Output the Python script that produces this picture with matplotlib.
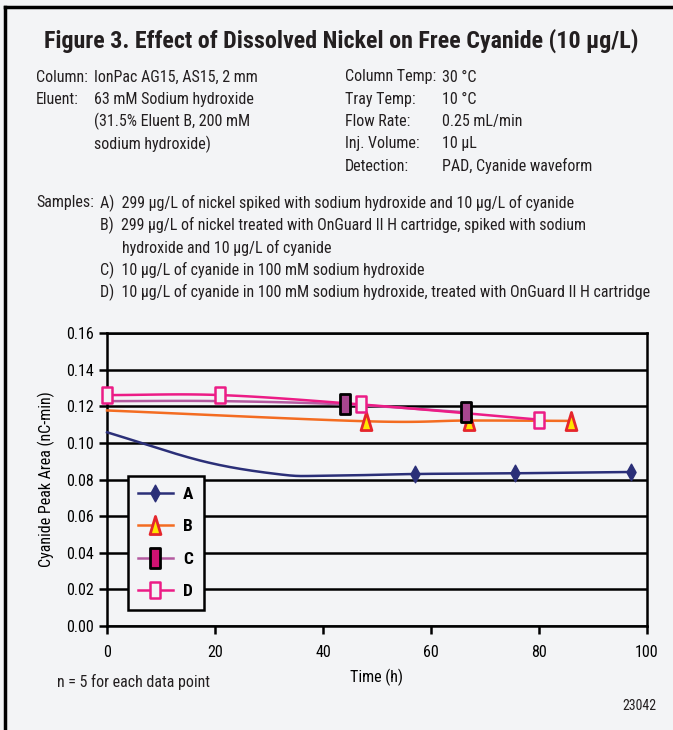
import numpy as np
import matplotlib
matplotlib.use('Agg')
import matplotlib.pyplot as plt
from matplotlib.lines import Line2D
from matplotlib.path import Path

# ---------------- data ----------------
t_A = [0, 18, 32, 40, 57, 75.5, 97]
y_A = [0.1058, 0.0898, 0.0828, 0.0820, 0.0830, 0.0834, 0.0841]
mk_A = [4, 5, 6]

t_B = [0, 48, 67, 86]
y_B = [0.1177, 0.1118, 0.1122, 0.1120]
mk_B = [1, 2, 3]

t_C = [0, 21, 44, 66.5]
y_C = [0.1228, 0.1228, 0.1210, 0.1167]
mk_C = [2, 3]

t_D = [0, 21, 47, 80]
y_D = [0.1261, 0.1261, 0.1210, 0.1127]
mk_D = [0, 1, 2, 3]

labels = ['A', 'B', 'C', 'D']
yticks = [0.00, 0.02, 0.04, 0.06, 0.08, 0.10, 0.12, 0.14, 0.16]
xticks = [0, 20, 40, 60, 80, 100]

BG = '#f3f4f6'
NAVY = '#2b2f78'
ORANGE = '#f36c21'
RED = '#e5262c'
YELLOW = '#ffe500'
PURPLE = '#b45aa0'
CFACE = '#a8468f'
PINK = '#ec1c86'

plt.rcParams['font.family'] = ['Roboto Condensed', 'DejaVu Sans']


def smooth(x, y, n=40):
    # catmull-rom through the points, like the excel smoothed line
    x = np.asarray(x, float)
    y = np.asarray(y, float)
    px = np.concatenate([[2 * x[0] - x[1]], x, [2 * x[-1] - x[-2]]])
    py = np.concatenate([[2 * y[0] - y[1]], y, [2 * y[-1] - y[-2]]])
    xs, ys = [], []
    s = np.linspace(0, 1, n)
    for i in range(1, len(px) - 2):
        for p, out in ((px, xs), (py, ys)):
            p0, p1, p2, p3 = p[i - 1], p[i], p[i + 1], p[i + 2]
            out.extend(0.5 * ((2 * p1) + (-p0 + p2) * s +
                              (2 * p0 - 5 * p1 + 4 * p2 - p3) * s ** 2 +
                              (-p0 + 3 * p1 - 3 * p2 + p3) * s ** 3))
    return np.array(xs), np.array(ys)


def tall(verts):
    return Path(verts + [verts[0]], closed=True)

m_diam = tall([(0, 1), (0.55, 0), (0, -1), (-0.55, 0)])
m_tri = tall([(0, 1), (0.6, -1), (-0.6, -1)])
m_rect = tall([(-0.55, 1), (0.55, 1), (0.55, -1), (-0.55, -1)])

fig = plt.figure(figsize=(6.73, 7.30), dpi=100)
fig.patch.set_facecolor(BG)
# frame: only the left and top edges show
fig.add_artist(Line2D([5 / 673, 5 / 673], [0, 1 - 7 / 730], transform=fig.transFigure,
                      color='black', lw=2.5, solid_capstyle='projecting'))
fig.add_artist(Line2D([5 / 673, 1.01], [1 - 7 / 730, 1 - 7 / 730], transform=fig.transFigure,
                      color='black', lw=2.5, solid_capstyle='projecting'))

# ---------------- header text ----------------
fig.text(341 / 673, 1 - 41 / 730, 'Figure 3. Effect of Dissolved Nickel on Free Cyanide (10 µg/L)',
         ha='center', va='center', fontsize=17.3, fontweight='bold', color='#231f20')

fs = 11.5
col = '#231f20'
rows_left = [('Column:', 'IonPac AG15, AS15, 2 mm'),
             ('Eluent:', '63 mM Sodium hydroxide'),
             ('', '(31.5% Eluent B, 200 mM'),
             ('', 'sodium hydroxide)')]
rows_right = [('Column Temp:', '30 °C'),
              ('Tray Temp:', '10 °C'),
              ('Flow Rate:', '0.25 mL/min'),
              ('Inj. Volume:', '10 µL'),
              ('Detection:', 'PAD, Cyanide waveform')]
y0 = 77
for i, (a, b) in enumerate(rows_left):
    yy = 1 - (y0 + 22.3 * i) / 730
    fig.text(36 / 673, yy, a, ha='left', va='center', fontsize=fs, color=col)
    fig.text(94 / 673, yy, b, ha='left', va='center', fontsize=fs, color=col)
for i, (a, b) in enumerate(rows_right):
    yy = 1 - (y0 + 22.3 * i) / 730
    fig.text(345 / 673, yy, a, ha='left', va='center', fontsize=fs, color=col)
    fig.text(442 / 673, yy, b, ha='left', va='center', fontsize=fs, color=col)

samples = [(100, 'A)  299 µg/L of nickel spiked with sodium hydroxide and 10 µg/L of cyanide'),
           (100, 'B)  299 µg/L of nickel treated with OnGuard II H cartridge, spiked with sodium'),
           (122, 'hydroxide and 10 µg/L of cyanide'),
           (100, 'C)  10 µg/L of cyanide in 100 mM sodium hydroxide'),
           (100, 'D)  10 µg/L of cyanide in 100 mM sodium hydroxide, treated with OnGuard II H cartridge')]
fig.text(36 / 673, 1 - 203 / 730, 'Samples:', ha='left', va='center', fontsize=fs, color=col)
for i, (x, s) in enumerate(samples):
    fig.text(x / 673, 1 - (203 + 22.3 * i) / 730, s, ha='left', va='center', fontsize=fs, color=col)

# ---------------- chart ----------------
ax = fig.add_axes([107 / 673, (730 - 626) / 730, 540 / 673, 293 / 730])
ax.set_facecolor(BG)
ax.set_xlim(0, 100)
ax.set_ylim(0, 0.16)
ax.set_xticks(xticks)
ax.set_yticks(yticks)
ax.set_yticklabels([f'{v:.2f}' for v in yticks])
ax.tick_params(axis='both', labelsize=fs, width=1.8, length=6, direction='out', colors='black')
ax.tick_params(axis='x', pad=8)
ax.grid(axis='y', color='black', linewidth=1.8)
ax.set_axisbelow(True)
for sp in ax.spines.values():
    sp.set_linewidth(1.8)

series = [
    (t_A, y_A, mk_A, NAVY, dict(marker=m_diam, ms=12, mfc=NAVY, mec=NAVY, mew=1)),
    (t_B, y_B, mk_B, ORANGE, dict(marker=m_tri, ms=13, mfc=YELLOW, mec=RED, mew=2)),
    (t_C, y_C, mk_C, PURPLE, dict(marker=m_rect, ms=14, mfc=CFACE, mec='black', mew=2)),
    (t_D, y_D, mk_D, PINK, dict(marker=m_rect, ms=12, mfc=BG, mec=PINK, mew=1.8)),
]
for t, y, mk, c, mstyle in series:
    xs, ys = smooth(t, y)
    ax.plot(xs, ys, color=c, lw=1.8, zorder=3, clip_on=False)
    ax.plot(np.array(t)[mk], np.array(y)[mk], ls='none', zorder=4, clip_on=False, **mstyle)

handles = []
for t, y, mk, c, mstyle in series:
    st = dict(mstyle)
    if c == PURPLE:
        st['mfc'] = '#d01272'
    handles.append(Line2D([], [], color=c, lw=1.8, **st))
leg = ax.legend(handles, labels, loc='lower left', bbox_to_anchor=(0.038, 0.055),
                frameon=True, fancybox=False, handlelength=2.0, handletextpad=0.6,
                labelspacing=1.0, borderpad=0.6, borderaxespad=0,
                prop={'weight': 'bold', 'size': 12.5})
leg.get_frame().set_edgecolor('black')
leg.get_frame().set_linewidth(1.8)
leg.get_frame().set_facecolor(BG)
leg.get_frame().set_alpha(1)
leg.set_zorder(5)

ax.set_xlabel('Time (h)', fontsize=fs, labelpad=6)
ax.set_ylabel('Cyanide Peak Area (nC-min)', fontsize=fs, labelpad=8)

fig.text(57 / 673, 1 - 682 / 730, 'n = 5 for each data point', ha='left', va='center', fontsize=fs, color=col)
fig.text(656 / 673, 1 - 706 / 730, '23042', ha='right', va='center', fontsize=10, color=col)

fig.savefig('out.png', dpi=100, facecolor=BG)
